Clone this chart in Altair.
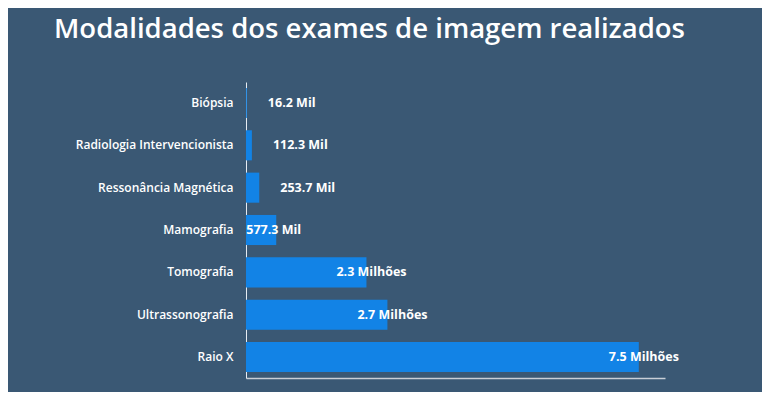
import altair as alt
import pandas as pd

categorias = ["Biópsia", "Radiologia Intervencionista", "Ressonância Magnética",
              "Mamografia", "Tomografia", "Ultrassonografia", "Raio X"]
valores = [16200, 112300, 253700, 577300, 2300000, 2700000, 7500000]
rotulos = ["16.2 Mil", "112.3 Mil", "253.7 Mil", "577.3 Mil",
           "2.3 Milhões", "2.7 Milhões", "7.5 Milhões"]

df = pd.DataFrame({"modalidade": categorias, "exames": valores, "rotulo": rotulos})

FONT = "Open Sans"

y = alt.Y("modalidade:N", sort=categorias, title=None,
          scale=alt.Scale(paddingInner=0.29, paddingOuter=0.14),
          axis=alt.Axis(labelColor="white", labelFont=FONT, labelFontSize=12,
                        labelFontWeight=600, labelPadding=13, ticks=False,
                        domainColor="#e6ecf3", domainWidth=1, grid=False))
x = alt.X("exames:Q", title=None,
          scale=alt.Scale(domain=[0, 8000000], nice=False),
          axis=alt.Axis(labels=False, ticks=False, grid=False,
                        domainColor="#c8ced6", domainWidth=1.5))

base = alt.Chart(df).encode(y=y, x=x)

bars = base.mark_bar(color="#1283e6")

small = base.transform_filter(alt.datum.exames < 500000).mark_text(
    align="left", baseline="middle", dx=21, color="white",
    font=FONT, fontSize=12.5, fontWeight="bold").encode(text="rotulo:N")
big = base.transform_filter(alt.datum.exames >= 500000).mark_text(
    align="left", baseline="middle", dx=-30, color="white",
    font=FONT, fontSize=12.5, fontWeight="bold").encode(text="rotulo:N")

chart = (bars + small + big).properties(
    width=419, height=296,
    title=alt.TitleParams("Modalidades dos exames de imagem realizados",
                          color="white", fontSize=27.5, font=FONT, fontWeight=600,
                          anchor="middle", dx=-86, baseline="alphabetic", offset=17),
    background="#3a5874",
    autosize=alt.AutoSizeParams(type="none"),
    padding={"left": 238, "top": 74, "right": 97, "bottom": 14},
).configure_view(stroke=None)

chart.save("out.html", embed_options={"renderer": "svg", "actions": False})
